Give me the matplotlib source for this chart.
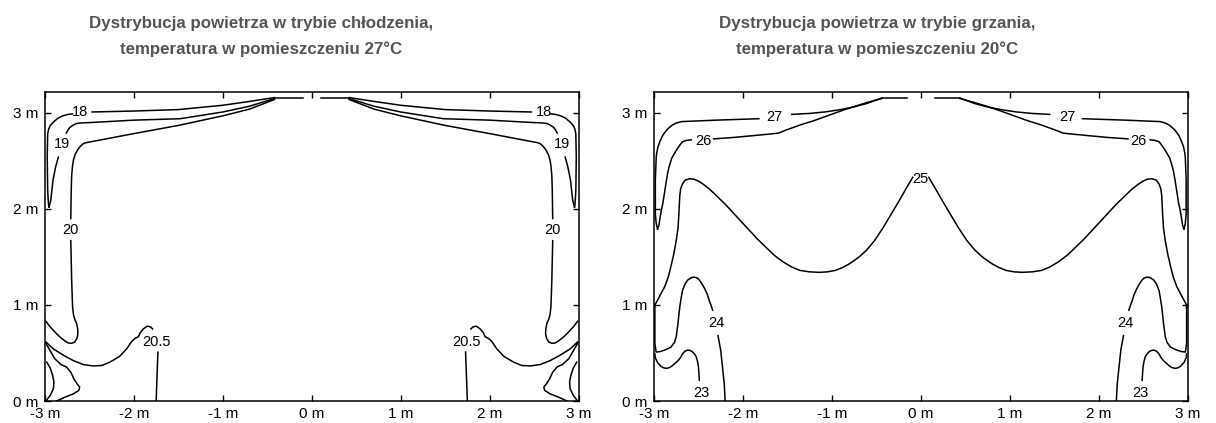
import numpy as np
import matplotlib
matplotlib.use("Agg")
import matplotlib.pyplot as plt

plt.rcParams['font.family'] = ['Liberation Sans', 'DejaVu Sans']

# ---------------- data (left half of each room; right half is the mirror) ----------------
titles_cool = ["Dystrybucja powietrza w trybie chłodzenia,", "temperatura w pomieszczeniu 27°C"]
titles_heat = ["Dystrybucja powietrza w trybie grzania,", "temperatura w pomieszczeniu 20°C"]

x_ticks = [-3, -2, -1, 0, 1, 2, 3]
x_tick_labels = ["-3 m", "-2 m", "-1 m", "0 m", "1 m", "2 m", "3 m"]
y_ticks = [0, 1, 2, 3]
y_tick_labels = ["0 m", "1 m", "2 m", "3 m"]

# cooling mode isotherms (left half)
cool_inlet_x = [-0.42, -0.10]
cool_inlet_y = [3.155, 3.155]
cool_18a_x = [-0.42, -0.7, -1.0, -1.5, -2.0, -2.47]
cool_18a_y = [3.16, 3.12, 3.08, 3.035, 3.02, 3.01]
cool_18b_x = [-2.69, -2.74, -2.80, -2.855, -2.90, -2.94, -2.96, -2.97, -2.975, -2.97, -2.96, -2.955]
cool_18b_y = [2.99, 2.985, 2.97, 2.945, 2.91, 2.87, 2.83, 2.78, 2.54, 2.19, 2.04, 2.02]
cool_19a_x = [-2.955, -2.935, -2.91, -2.88, -2.85]
cool_19a_y = [2.02, 2.09, 2.30, 2.44, 2.54]
cool_19b_x = [-2.76, -2.74, -2.72, -2.68, -2.645, -2.58, -2.49, -2.0, -1.48, -1.0, -0.7, -0.42]
cool_19b_y = [2.79, 2.825, 2.85, 2.875, 2.89, 2.897, 2.90, 2.925, 2.94, 3.01, 3.07, 3.15]
cool_20a_x = [-0.42, -0.7, -1.0, -1.5, -2.0, -2.54, -2.57, -2.60, -2.63, -2.66, -2.68, -2.69,
              -2.70, -2.705, -2.71]
cool_20a_y = [3.14, 3.04, 2.97, 2.87, 2.785, 2.69, 2.68, 2.655, 2.62, 2.57, 2.51, 2.45,
              2.35, 2.20, 1.90]
cool_20b_x = [-2.71, -2.70, -2.69, -2.68, -2.665, -2.645, -2.632, -2.63, -2.64, -2.665, -2.70,
              -2.74, -2.775, -2.83, -2.87, -2.94, -2.99]
cool_20b_y = [1.67, 1.257, 0.98, 0.90, 0.85, 0.81, 0.75, 0.70, 0.655, 0.615, 0.60,
              0.605, 0.625, 0.665, 0.70, 0.77, 0.83]
cool_205a_x = [-2.99, -2.91, -2.79, -2.68, -2.57, -2.46, -2.36, -2.27, -2.16, -2.08, -2.025,
               -1.99, -1.95, -1.93, -1.895, -1.85, -1.81, -1.79]
cool_205a_y = [0.615, 0.545, 0.475, 0.42, 0.38, 0.365, 0.37, 0.405, 0.465, 0.545, 0.62,
               0.65, 0.67, 0.71, 0.75, 0.78, 0.77, 0.75]
cool_205b_x = [-1.73, -1.75]
cool_205b_y = [0.51, 0.0]
cool_c1_x = [-2.99, -2.94, -2.89, -2.82, -2.76, -2.71, -2.675, -2.64, -2.61, -2.62, -2.68, -2.775, -2.87]
cool_c1_y = [0.60, 0.52, 0.44, 0.38, 0.355, 0.30, 0.23, 0.18, 0.145, 0.11, 0.075, 0.04, 0.0]
cool_c2_x = [-2.98, -2.94, -2.915, -2.90, -2.905, -2.94, -2.99]
cool_c2_y = [0.405, 0.34, 0.27, 0.20, 0.13, 0.06, 0.0]
cool_labels = ["18", "19", "20", "20.5"]
cool_label_x = [-2.61, -2.81, -2.71, -1.745]
cool_label_y = [3.01, 2.68, 1.78, 0.615]

# heating mode isotherms (left half)
heat_inlet_x = [-0.44, -0.16]
heat_inlet_y = [3.16, 3.16]
heat_27a_x = [-0.44, -0.6, -0.74, -0.9, -1.08, -1.25, -1.45]
heat_27a_y = [3.155, 3.10, 3.065, 3.035, 3.01, 2.995, 2.985]
heat_27b_x = [-1.82, -2.3, -2.69, -2.75, -2.80, -2.85, -2.90, -2.93, -2.955, -2.97, -2.975,
              -2.985, -2.985, -2.975, -2.96]
heat_27b_y = [2.94, 2.925, 2.91, 2.895, 2.87, 2.83, 2.77, 2.71, 2.65, 2.58, 2.54,
              2.30, 1.95, 1.85, 1.79]
heat_26a_x = [-2.96, -2.945, -2.93, -2.915, -2.90, -2.88, -2.86, -2.845, -2.83, -2.80, -2.75,
              -2.71, -2.68, -2.63, -2.58]
heat_26a_y = [1.79, 1.83, 1.92, 2.0, 2.06, 2.18, 2.30, 2.38, 2.44, 2.53, 2.61,
              2.665, 2.70, 2.715, 2.72]
heat_26b_x = [-2.33, -2.1, -1.87, -1.70, -1.6, -1.52, -1.43, -1.34, -1.2, -1.08, -0.9, -0.74,
              -0.6, -0.44]
heat_26b_y = [2.73, 2.745, 2.765, 2.78, 2.79, 2.82, 2.85, 2.88, 2.92, 2.96, 3.02, 3.07,
              3.11, 3.15]
heat_25_x = [-2.99, -2.96, -2.92, -2.88, -2.84, -2.81, -2.78, -2.75, -2.73, -2.72, -2.715, -2.71,
             -2.70, -2.68, -2.65, -2.60, -2.55, -2.50, -2.45, -2.38, -2.30, -2.20, -2.11, -2.02,
             -1.93, -1.84, -1.74, -1.65, -1.55, -1.45, -1.36, -1.25, -1.14, -1.05, -0.96, -0.88,
             -0.80, -0.70, -0.61, -0.52, -0.42, -0.33, -0.24, -0.16, -0.09]
heat_25_y = [1.0, 1.05, 1.12, 1.19, 1.29, 1.40, 1.52, 1.67, 1.80, 1.95, 2.05, 2.14,
             2.21, 2.26, 2.30, 2.315, 2.31, 2.29, 2.26, 2.21, 2.14, 2.05, 1.96, 1.87,
             1.78, 1.69, 1.60, 1.52, 1.45, 1.395, 1.36, 1.345, 1.34, 1.345, 1.36, 1.39,
             1.43, 1.495, 1.57, 1.67, 1.81, 1.95, 2.09, 2.22, 2.33]
heat_24a_x = [-2.99, -2.99, -2.976, -2.93, -2.88, -2.81, -2.77, -2.75, -2.74, -2.73, -2.72,
              -2.71, -2.695, -2.68, -2.65, -2.62, -2.58, -2.545, -2.51, -2.49, -2.46, -2.43,
              -2.40, -2.38, -2.36, -2.34]
heat_24a_y = [1.0, 0.6, 0.51, 0.515, 0.53, 0.56, 0.61, 0.67, 0.74, 0.81, 0.90,
              0.98, 1.07, 1.15, 1.22, 1.26, 1.285, 1.29, 1.28, 1.26, 1.22, 1.17,
              1.11, 1.05, 1.0, 0.945]
heat_24b_x = [-2.28, -2.25, -2.23, -2.21, -2.20]
heat_24b_y = [0.68, 0.53, 0.355, 0.18, 0.0]
heat_23_x = [-2.99, -2.985, -2.96, -2.92, -2.89, -2.86, -2.82, -2.79, -2.76, -2.73, -2.70, -2.68,
             -2.65, -2.62, -2.59, -2.565, -2.54, -2.525, -2.51, -2.50, -2.495, -2.49]
heat_23_y = [0.49, 0.45, 0.40, 0.36, 0.345, 0.34, 0.35, 0.37, 0.395, 0.42, 0.455, 0.49,
             0.52, 0.53, 0.525, 0.51, 0.485, 0.46, 0.41, 0.355, 0.29, 0.215]
heat_labels = ["27", "26", "24", "23"]
heat_label_x = [-1.65, -2.45, -2.30, -2.47]
heat_label_y = [2.96, 2.71, 0.81, 0.08]
heat_center_label = "25"
heat_center_label_x = 0.0
heat_center_label_y = 2.31

cool_segments = [(cool_inlet_x, cool_inlet_y), (cool_18a_x, cool_18a_y), (cool_18b_x, cool_18b_y),
                 (cool_19a_x, cool_19a_y), (cool_19b_x, cool_19b_y), (cool_20a_x, cool_20a_y),
                 (cool_20b_x, cool_20b_y), (cool_205a_x, cool_205a_y), (cool_205b_x, cool_205b_y),
                 (cool_c1_x, cool_c1_y), (cool_c2_x, cool_c2_y)]
heat_segments = [(heat_inlet_x, heat_inlet_y), (heat_27a_x, heat_27a_y), (heat_27b_x, heat_27b_y),
                 (heat_26a_x, heat_26a_y), (heat_26b_x, heat_26b_y), (heat_25_x, heat_25_y),
                 (heat_24a_x, heat_24a_y), (heat_24b_x, heat_24b_y), (heat_23_x, heat_23_y)]

# ---------------- drawing ----------------
fig = plt.figure(figsize=(12.16, 4.23), dpi=100)
ax1 = fig.add_axes([45 / 1216, 22 / 423, 533.5 / 1216, 308.7 / 423])
ax2 = fig.add_axes([654 / 1216, 22 / 423, 533.5 / 1216, 308.7 / 423])


def style(ax):
    ax.set_xlim(-3, 3)
    ax.set_ylim(0, 3.215)
    ax.set_xticks(x_ticks)
    ax.set_xticklabels(x_tick_labels)
    ax.set_yticks(y_ticks)
    ax.set_yticklabels(y_tick_labels)
    ax.tick_params(direction='in', length=4, width=1, top=True, right=True,
                   labelsize=11, pad=4.5, colors='black')
    for s in ax.spines.values():
        s.set_linewidth(1.1)
        s.set_color('black')


def draw(ax, segments, labels, lx, ly):
    for sgn in (1, -1):
        for xs, ys in segments:
            ax.plot(sgn * np.asarray(xs), ys, color='black', lw=1.1)
        for t, x, y in zip(labels, lx, ly):
            ax.text(sgn * x, y, t, ha='center', va='center', fontsize=10.5, color='black')


style(ax1)
style(ax2)
draw(ax1, cool_segments, cool_labels, cool_label_x, cool_label_y)
draw(ax2, heat_segments, heat_labels, heat_label_x, heat_label_y)
ax2.text(heat_center_label_x, heat_center_label_y, heat_center_label, ha='center', va='center',
         fontsize=10.5, color='black')

tcol = '#555558'
for cx, lines in ((261 / 1216, titles_cool), (877 / 1216, titles_heat)):
    fig.text(cx, 1 - 28.3 / 423, lines[0], ha='center', va='baseline', fontsize=12.2,
             fontweight='bold', color=tcol)
    fig.text(cx, 1 - 54.0 / 423, lines[1], ha='center', va='baseline', fontsize=12.2,
             fontweight='bold', color=tcol)

fig.savefig('out.png', dpi=100)
